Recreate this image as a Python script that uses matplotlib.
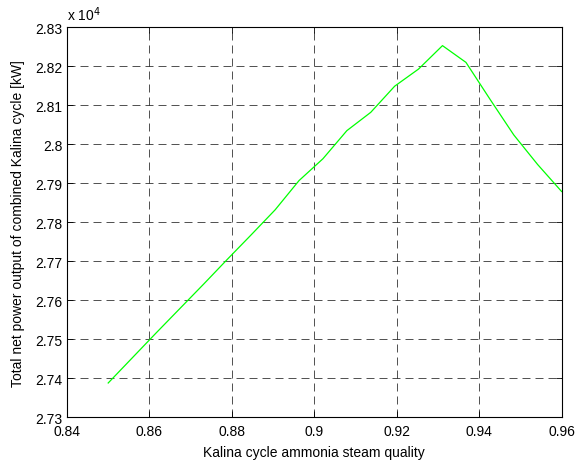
import matplotlib
matplotlib.use("Agg")
import matplotlib.pyplot as plt
from matplotlib.ticker import FormatStrFormatter
import numpy as np

# Kalina cycle ammonia steam quality
quality = [0.8500, 0.8558, 0.8616, 0.8674, 0.8732, 0.8789, 0.8847, 0.8905,
           0.8963, 0.9021, 0.9079, 0.9137, 0.9195, 0.9253, 0.9311, 0.9368,
           0.9426, 0.9484, 0.9542, 0.9600]
# total net power output [kW]
power_kw = [27388, 27452, 27516, 27579, 27642, 27705, 27768, 27832,
            27907, 27963, 28035, 28082, 28149, 28193, 28253, 28210,
            28116, 28024, 27948, 27879]

xticks = [0.84, 0.86, 0.88, 0.9, 0.92, 0.94, 0.96]
yticks = [2.73, 2.74, 2.75, 2.76, 2.77, 2.78, 2.79, 2.8, 2.81, 2.82, 2.83]

plt.rcParams['font.family'] = ['Liberation Sans', 'DejaVu Sans']
plt.rcParams['font.size'] = 10

fig = plt.figure(figsize=(5.76, 4.64), dpi=100)
ax = fig.add_axes([0.1163, 0.0985, 0.975 - 0.1163, 0.939 - 0.0985])

ax.plot(quality, np.array(power_kw) / 1e4, color='#00ff00', linewidth=0.9)

ax.set_xlim(0.84, 0.96)
ax.set_ylim(2.73, 2.83)
ax.set_xticks(xticks)
ax.set_yticks(yticks)
ax.xaxis.set_major_formatter(FormatStrFormatter('%g'))
ax.yaxis.set_major_formatter(FormatStrFormatter('%g'))

ax.grid(True, color='black', linestyle=(0, (9.6, 6)), linewidth=0.6, alpha=0.8)
ax.tick_params(direction='in', top=True, right=True, length=4, width=0.6,
               colors='black', labelsize=10)
ax.tick_params(axis='x', pad=5)
for sp in ax.spines.values():
    sp.set_linewidth(0.8)

ax.set_xlabel('Kalina cycle ammonia steam quality', fontsize=10, labelpad=5)
ax.set_ylabel('Total net power output of combined Kalina cycle [kW]', fontsize=10, labelpad=7)
ax.text(0.0, 1.012, r'x 10$^4$', transform=ax.transAxes, fontsize=10,
        ha='left', va='bottom')

fig.savefig('out.png', dpi=100)
